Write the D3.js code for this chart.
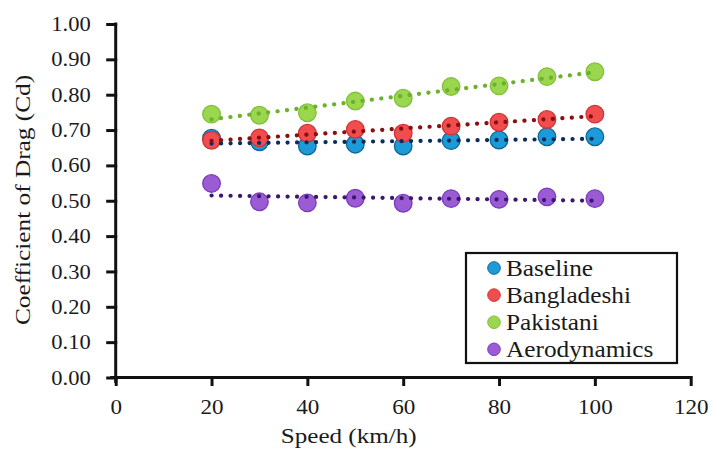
<!DOCTYPE html>
<html>
<head>
<meta charset="utf-8">
<script src="https://cdn.jsdelivr.net/npm/d3@7"></script>
<style>
  body { margin: 0; background: #fff; }
  text { font-family: "Liberation Serif", "Times New Roman", serif; fill: #1a1a1a; }
</style>
</head>
<body>
<div id="chart"></div>
<script>
// Cd vs speed, four vehicle shapes, with dotted linear trendlines

const speeds = [20, 30, 40, 50, 60, 70, 80, 90, 100];
const baseline = [0.677, 0.667, 0.655, 0.660, 0.655, 0.670, 0.672, 0.681, 0.681];
const bangladeshi = [0.671, 0.678, 0.691, 0.702, 0.691, 0.711, 0.722, 0.730, 0.745];
const pakistani = [0.745, 0.742, 0.749, 0.782, 0.790, 0.823, 0.825, 0.851, 0.865];
const aerodynamics = [0.549, 0.497, 0.494, 0.507, 0.493, 0.506, 0.504, 0.511, 0.506];

const seriesNames = ["Baseline", "Bangladeshi", "Pakistani", "Aerodynamics"];
const xTicks = [0, 20, 40, 60, 80, 100, 120];
const yTicks = [0, 0.1, 0.2, 0.3, 0.4, 0.5, 0.6, 0.7, 0.8, 0.9, 1.0];

const styles = {
    Baseline:     { fill: "#1c9bd8", stroke: "#0f6796", trend: "#0b2d5c" },
    Bangladeshi:  { fill: "#f14d4f", stroke: "#cf3436", trend: "#8a1010" },
    Pakistani:    { fill: "#9bd64f", stroke: "#83bf3c", trend: "#6cb12a" },
    Aerodynamics: { fill: "#9b5bd5", stroke: "#7b3db9", trend: "#3c176f" }
};

const series = [baseline, bangladeshi, pakistani, aerodynamics].map((vals, i) => ({
    name: seriesNames[i],
    points: speeds.map((s, j) => ({ x: s, y: vals[j] }))
}));

const width = 714, height = 461;
const stretch = 1.1; // source text is slightly wide

const svg = d3.select("#chart")
    .append("svg")
    .attr("width", width)
    .attr("height", height);

svg.append("rect").attr("width", width).attr("height", height).attr("fill", "#fff");

const x = d3.scaleLinear().domain([0, 120]).range([115.7, 690.7]);
const y = d3.scaleLinear().domain([0, 1]).range([377.5, 24]);

//--------------------------------------------------
// Axes
//--------------------------------------------------
const yAxis = svg.append("g")
    .attr("transform", `translate(${x(0)},0)`)
    .call(d3.axisLeft(y).tickValues(yTicks).tickFormat(d3.format(".2f")).tickSize(8).tickSizeOuter(0));

yAxis.select(".domain").attr("stroke", "#111").attr("stroke-width", 3)
    .attr("d", `M0,${y(1)}V${y(0) + 4}`);
yAxis.selectAll(".tick line").attr("stroke", "#111").attr("stroke-width", 3);
yAxis.selectAll(".tick text")
    .attr("x", -25 / stretch)
    .attr("transform", `scale(${stretch},1)`)
    .attr("font-size", "20.5px");

const xAxis = svg.append("g")
    .attr("transform", `translate(0,${y(0)})`)
    .call(d3.axisBottom(x).tickValues(xTicks).tickFormat(d3.format("d")).tickSize(7).tickSizeOuter(0));

xAxis.select(".domain").attr("stroke", "#111").attr("stroke-width", 3)
    .attr("d", `M${x(0) - 4},0H${x(120)}`);
xAxis.selectAll(".tick line").attr("stroke", "#111").attr("stroke-width", 3);
xAxis.selectAll(".tick text")
    .attr("y", 36.5)
    .attr("dy", 0)
    .attr("transform", `scale(${stretch},1)`)
    .attr("font-size", "21px");

svg.selectAll(".domain, .tick line").attr("stroke-linecap", "square");

// axis titles
svg.append("text")
    .attr("transform", `translate(348.7,443) scale(${stretch + 0.04},1)`)
    .attr("text-anchor", "middle")
    .attr("font-size", "22px")
    .text("Speed (km/h)");

svg.append("text")
    .attr("transform", `translate(29.5,200) rotate(-90) scale(1.15,1)`)
    .attr("text-anchor", "middle")
    .attr("font-size", "22px")
    .text("Coefficient of Drag (Cd)");

//--------------------------------------------------
// Markers
//--------------------------------------------------
series.forEach(s => {
    svg.append("g")
        .selectAll("circle")
        .data(s.points)
        .join("circle")
        .attr("cx", d => x(d.x))
        .attr("cy", d => y(d.y))
        .attr("r", 8.8)
        .attr("fill", styles[s.name].fill)
        .attr("stroke", styles[s.name].stroke)
        .attr("stroke-width", 1.3);
});

//--------------------------------------------------
// Linear trendlines (least squares, drawn on top)
//--------------------------------------------------
series.forEach(s => {
    const mx = d3.mean(s.points, d => d.x);
    const my = d3.mean(s.points, d => d.y);
    const slope = d3.sum(s.points, d => (d.x - mx) * (d.y - my)) /
        d3.sum(s.points, d => (d.x - mx) ** 2);
    const ends = d3.extent(speeds).map(v => ({ x: v, y: my + slope * (v - mx) }));

    svg.append("path")
        .datum(ends)
        .attr("fill", "none")
        .attr("stroke", styles[s.name].trend)
        .attr("stroke-width", 4.2)
        .attr("stroke-linecap", "round")
        .attr("stroke-dasharray", "0.1,9.4")
        .attr("d", d3.line().x(d => x(d.x)).y(d => y(d.y)));
});

//--------------------------------------------------
// Legend
//--------------------------------------------------
const legend = svg.append("g");

legend.append("rect")
    .attr("x", 466)
    .attr("y", 253)
    .attr("width", 211)
    .attr("height", 110)
    .attr("fill", "#fff")
    .attr("stroke", "#111")
    .attr("stroke-width", 2.2);

seriesNames.forEach((name, i) => {
    const base = 276 + i * 27.1;
    legend.append("circle")
        .attr("cx", 494)
        .attr("cy", base - 8)
        .attr("r", 6.3)
        .attr("fill", styles[name].fill)
        .attr("stroke", styles[name].stroke)
        .attr("stroke-width", 1);
    legend.append("text")
        .attr("transform", `translate(506,${base}) scale(${stretch},1)`)
        .attr("font-size", "23px")
        .text(name);
});
</script>
</body>
</html>
